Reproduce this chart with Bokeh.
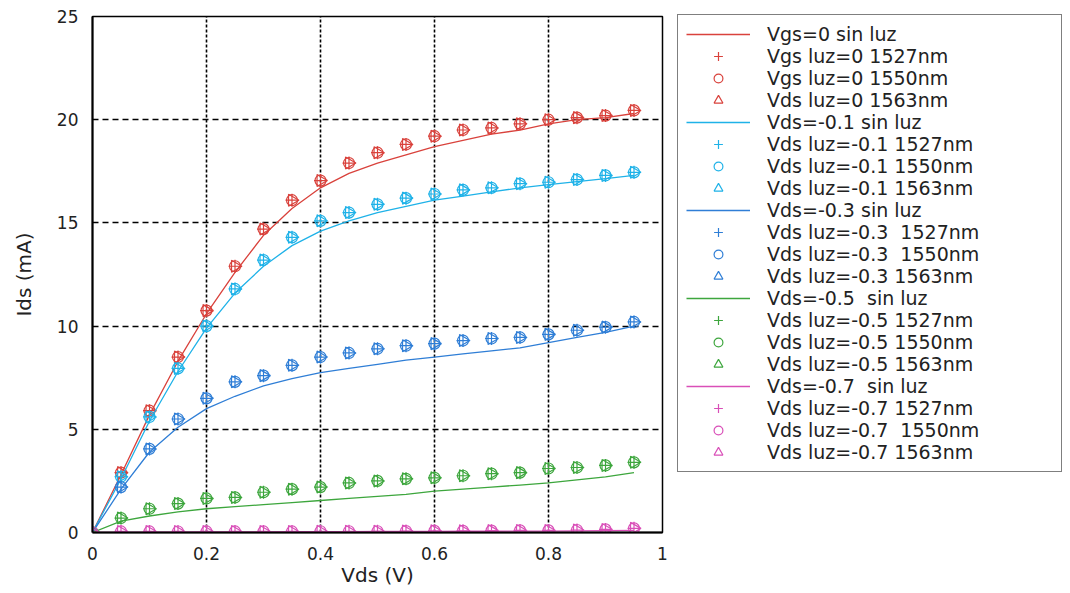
import math
from bokeh.plotting import figure
from bokeh.models import Legend, LegendItem, FixedTicker, Range1d
from bokeh.embed import file_html
from bokeh.resources import INLINE

# ---- data ----
vds = [0.0, 0.05, 0.10, 0.15, 0.20, 0.25, 0.30, 0.35, 0.40, 0.45,
       0.50, 0.55, 0.60, 0.65, 0.70, 0.75, 0.80, 0.85, 0.90, 0.95]

# "sin luz" (no light) curves
line_0  = [0, 2.8, 5.7, 8.3, 10.6, 12.6, 14.4, 15.7, 16.7, 17.4,
           17.9, 18.3, 18.7, 19.0, 19.3, 19.5, 19.8, 20.0, 20.1, 20.3]
line_01 = [0, 2.6, 5.4, 7.8, 9.9, 11.6, 12.9, 13.9, 14.6, 15.1,
           15.5, 15.8, 16.1, 16.3, 16.5, 16.7, 16.85, 17.0, 17.15, 17.3]
line_03 = [0, 2.1, 3.9, 5.1, 6.0, 6.6, 7.1, 7.45, 7.75, 7.95,
           8.15, 8.35, 8.5, 8.65, 8.8, 8.95, 9.2, 9.45, 9.7, 10.0]
line_05 = [0, 0.55, 0.8, 1.0, 1.15, 1.25, 1.35, 1.45, 1.55, 1.65,
           1.75, 1.85, 2.0, 2.1, 2.2, 2.3, 2.4, 2.55, 2.7, 2.9]
line_07 = [0, 0.01, 0.02, 0.02, 0.03, 0.03, 0.03, 0.04, 0.04, 0.04,
           0.05, 0.05, 0.05, 0.06, 0.06, 0.07, 0.07, 0.08, 0.09, 0.1]

# with light (1527 / 1550 / 1563 nm markers overlap)
luz_0  = [0, 2.9, 5.9, 8.5, 10.75, 12.9, 14.7, 16.1, 17.05, 17.9,
          18.4, 18.8, 19.2, 19.5, 19.6, 19.8, 20.0, 20.1, 20.2, 20.45]
luz_01 = [0, 2.7, 5.6, 7.95, 10.0, 11.8, 13.2, 14.3, 15.1, 15.5,
          15.9, 16.2, 16.4, 16.6, 16.7, 16.9, 16.97, 17.1, 17.3, 17.45]
luz_03 = [0, 2.2, 4.05, 5.5, 6.5, 7.3, 7.6, 8.1, 8.5, 8.7,
          8.9, 9.05, 9.15, 9.3, 9.4, 9.45, 9.6, 9.8, 9.95, 10.2]
luz_05 = [0, 0.7, 1.15, 1.4, 1.65, 1.7, 1.95, 2.1, 2.2, 2.4,
          2.5, 2.6, 2.65, 2.75, 2.85, 2.9, 3.1, 3.15, 3.25, 3.4]
luz_07 = [0, 0.05, 0.05, 0.05, 0.05, 0.05, 0.05, 0.05, 0.06, 0.06,
          0.06, 0.07, 0.08, 0.08, 0.09, 0.1, 0.1, 0.12, 0.15, 0.2]

groups = [
    ("#d9423c", line_0, luz_0,
     ["Vgs=0 sin luz", "Vgs luz=0 1527nm", "Vgs luz=0 1550nm", "Vds luz=0 1563nm"]),
    ("#1fb2e8", line_01, luz_01,
     ["Vds=-0.1 sin luz", "Vds luz=-0.1 1527nm", "Vds luz=-0.1 1550nm", "Vds luz=-0.1 1563nm"]),
    ("#2f7ed6", line_03, luz_03,
     ["Vds=-0.3 sin luz", "Vds luz=-0.3  1527nm", "Vds luz=-0.3  1550nm", "Vds luz=-0.3 1563nm"]),
    ("#3da63d", line_05, luz_05,
     ["Vds=-0.5  sin luz", "Vds luz=-0.5 1527nm", "Vds luz=-0.5 1550nm", "Vds luz=-0.5 1563nm"]),
    ("#d94fb8", line_07, luz_07,
     ["Vds=-0.7  sin luz", "Vds luz=-0.7 1527nm", "Vds luz=-0.7  1550nm", "Vds luz=-0.7 1563nm"]),
]

x_ticks = [0, 0.2, 0.4, 0.6, 0.8, 1]
y_ticks = [0, 5, 10, 15, 20, 25]

FONT = "DejaVu Sans"

p = figure(frame_width=570, frame_height=516,
           min_border_left=92, min_border_top=16, min_border_right=405, min_border_bottom=56,
           x_range=Range1d(0, 1), y_range=Range1d(0, 25),
           output_backend="svg", toolbar_location=None)

p.outline_line_color = "black"
p.outline_line_width = 1.5

for ax, ticks in ((p.xaxis[0], x_ticks), (p.yaxis[0], y_ticks)):
    ax.ticker = FixedTicker(ticks=ticks)
    ax.major_label_text_font = FONT
    ax.major_label_text_font_size = "17px"
    ax.major_label_text_color = "#222222"
    ax.major_tick_line_color = None
    ax.minor_tick_line_color = None
    ax.axis_line_color = "black"
    ax.axis_line_width = 2
    ax.major_label_standoff = 8
    ax.axis_label_text_font = FONT
    ax.axis_label_text_font_size = "20px"
    ax.axis_label_text_font_style = "normal"
    ax.axis_label_text_color = "#222222"

p.xaxis.axis_label = "Vds (V)"
p.yaxis.axis_label = "Ids (mA)"
p.xaxis.axis_label_standoff = 0
p.yaxis.axis_label_standoff = 18
p.xaxis.major_label_overrides = {0: "0", 1: "1"}

p.xgrid.grid_line_color = "black"
p.xgrid.grid_line_dash = "3 2"
p.xgrid.grid_line_width = 1.6
p.ygrid.grid_line_color = "black"
p.ygrid.grid_line_dash = "6 4"
p.ygrid.grid_line_width = 1.4

items = []
for color, line_vals, luz_vals, labels in groups:
    r_line = p.line(vds, line_vals, line_color=color, line_width=1.3)
    r_cross = p.scatter(vds, luz_vals, marker="cross", size=13, line_color=color, line_width=1.2)
    r_circ = p.scatter(vds, luz_vals, marker="circle", size=11, line_color=color,
                       fill_color=None, line_width=1.2)
    r_tri = p.scatter(vds, luz_vals, marker="triangle", size=12, angle=-math.pi / 2,
                      line_color=color, fill_color=None, line_width=1.2)
    for lab, r in zip(labels, (r_line, r_cross, r_circ, r_tri)):
        items.append(LegendItem(label=lab, renderers=[r]))

legend = Legend(items=items, location=(15, 60),
                label_text_font=FONT, label_text_font_size="19px",
                label_text_color="#222222",
                label_text_line_height=1.0,
                label_height=22, glyph_height=22, glyph_width=64,
                label_width=286, label_standoff=17,
                spacing=0, padding=8, margin=0,
                border_line_color="black", border_line_width=1.5,
                background_fill_alpha=1.0)
p.add_layout(legend, "right")

open("out.html", "w").write(file_html(p, INLINE))
